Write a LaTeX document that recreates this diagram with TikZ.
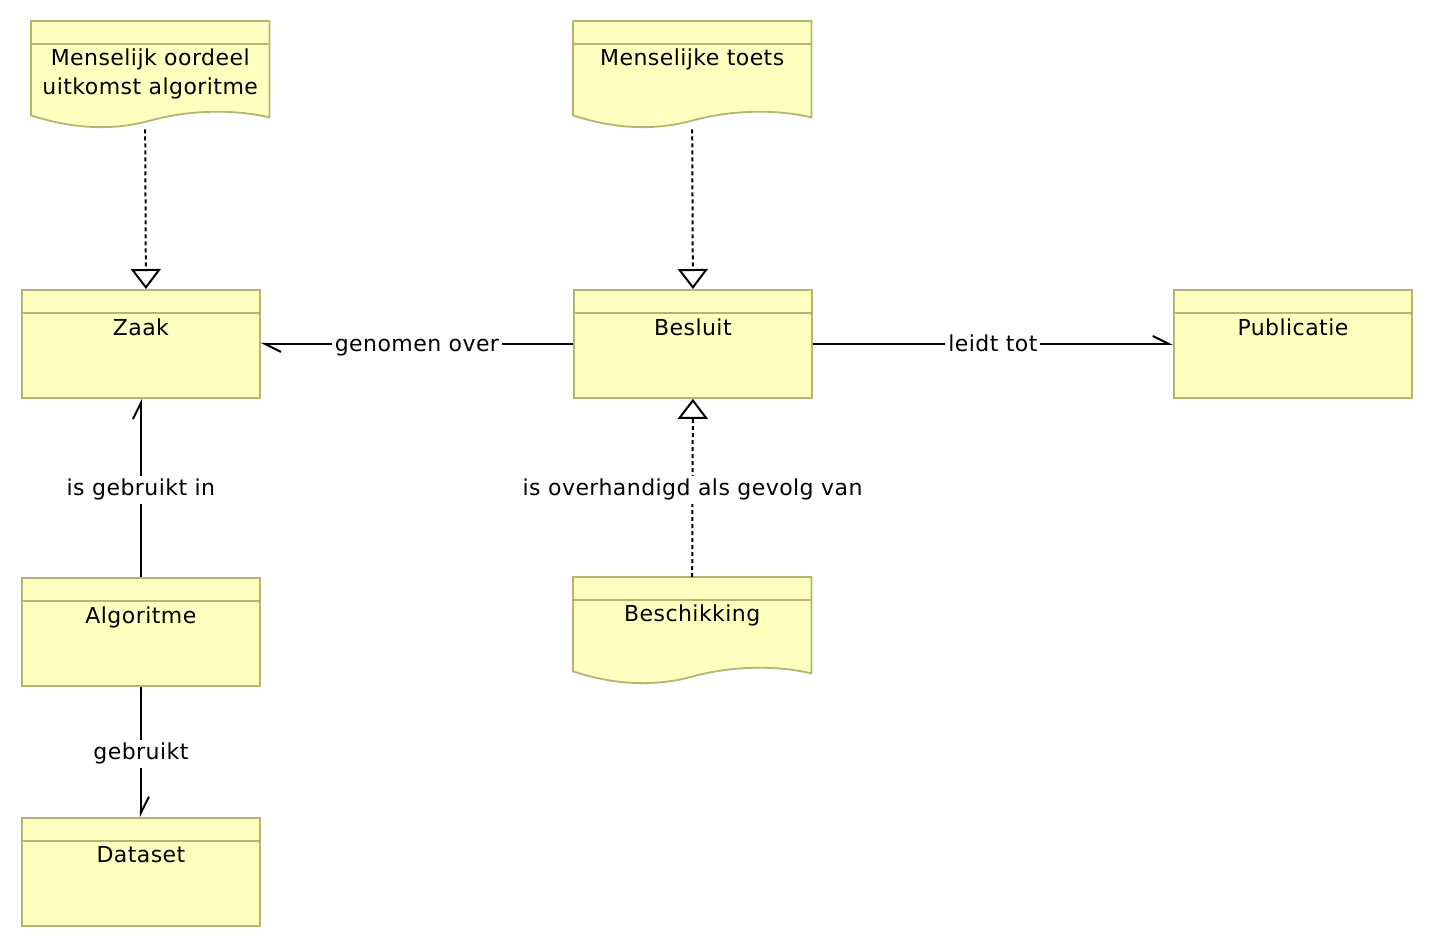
\documentclass[tikz,border=0pt]{standalone}
\usepackage{fontspec}
\setmainfont{DejaVu Sans}[LetterSpace=2]
\usetikzlibrary{arrows.meta,calc}
\definecolor{fillY}{RGB}{255,255,192}
\definecolor{edgeY}{RGB}{181,181,115}
\begin{document}
\begin{tikzpicture}[x=1pt,y=-1pt,
  every node/.style={font=\fontsize{22}{29}\selectfont, text=black},
  cls/.style={draw=edgeY, fill=fillY, line width=1.8pt, minimum width=238pt,
    minimum height=108pt, inner sep=0pt, anchor=north west,
    path picture={\draw[edgeY,line width=1.8pt]
      ([yshift=-23pt]path picture bounding box.north west) --
      ([yshift=-23pt]path picture bounding box.north east);},
    label={[clstxt]north:#1}},
  clstxt/.style={anchor=north, inner sep=0pt, yshift=-29.3pt, align=center},
  docbox/.style={minimum width=238pt, minimum height=94pt, inner sep=0pt,
    anchor=north west},
  doctxt/.style={anchor=north, inner sep=0pt, yshift=-27.3pt, align=center},
  docshape/.style={draw=edgeY, fill=fillY, line width=1.8pt},
  real/.style={line width=2pt, dash pattern=on 4pt off 3pt,
    -{Triangle[open, fill=white, length=20pt, width=30pt]}},
  assoc/.style={line width=2pt,
    -{Straight Barb[harpoon, length=16pt, width=16pt]}},
  lab/.style={fill=white, inner xsep=3pt, inner ysep=3pt,
    text height=16.7pt, text depth=5pt, yshift=-2pt}
]
\fill[white] (0,0) rectangle (1432,946);
\useasboundingbox (0,0) rectangle (1432,946);

% class boxes
\node[cls={Zaak}] (zaak) at (21,289) {};
\node[cls={Besluit}] (besluit) at (573,289) {};
\node[cls={Publicatie}] (publ) at (1173,289) {};
\node[cls={Algoritme}] (algo) at (21,577) {};
\node[cls={Dataset}] (data) at (21,817) {};

% document boxes
\node[docbox] (moo) at (31,21) {};
\node[docbox] (mt) at (573,21) {};
\node[docbox] (besch) at (573,577) {};
\foreach \d in {moo,mt,besch}{
  \draw[docshape] (\d.north west) -- (\d.north east) -- ($(\d.south east)+(0,2)$)
    .. controls ($(\d.south west)+(205,-6)$) and ($(\d.south west)+(160,-6)$) .. ($(\d.south west)+(120,5)$)
    .. controls ($(\d.south west)+(80,16)$) and ($(\d.south west)+(40,13)$) .. (\d.south west) -- cycle;
  \draw[edgeY, line width=1.8pt] ($(\d.north west)+(0,23)$) -- ($(\d.north east)+(0,23)$);
}
\node[doctxt] (mootxt) at (moo.north) {Menselijk oordeel\\uitkomst algoritme};
\node[doctxt] (mttxt) at (mt.north) {Menselijke toets};
\node[doctxt] (beschtxt) at (besch.north) {Beschikking};

% connectors
\draw[real] ([xshift=-5pt,yshift=-14pt]moo.south) -- ([xshift=5pt]zaak.north);
\draw[real] ([yshift=-14pt]mt.south) -- (besluit.north);
\draw[real] (besch.north) -- node[lab] {is overhandigd als gevolg van} (besluit.south);
\draw[assoc] (besluit.west) -- node[lab] {genomen over} (zaak.east);
\draw[assoc] (besluit.east) -- node[lab] {leidt tot} (publ.west);
\draw[assoc] (algo.north) -- node[lab] {is gebruikt in} (zaak.south);
\draw[assoc] (algo.south) -- node[lab] {gebruikt} (data.north);
\end{tikzpicture}
\end{document}
